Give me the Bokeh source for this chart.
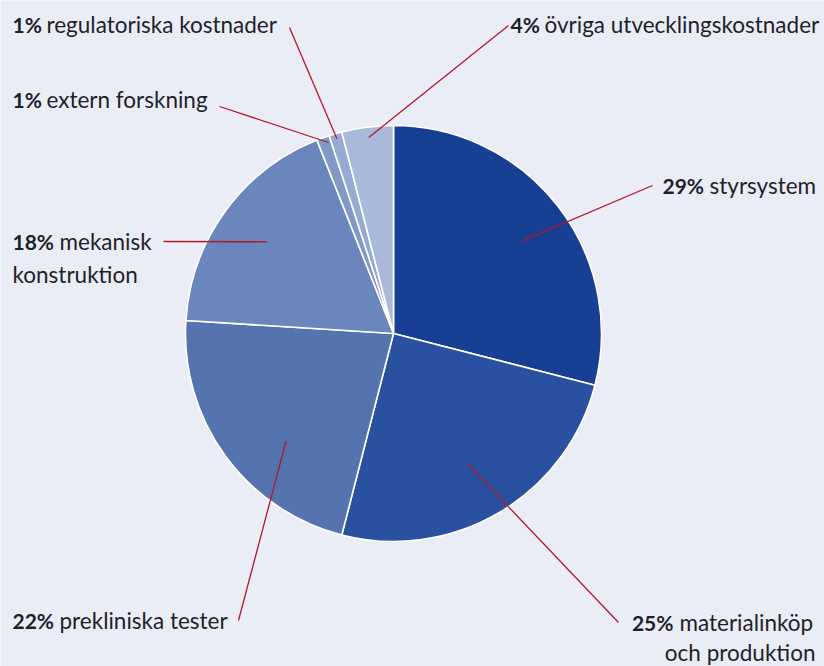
import math
from bokeh.plotting import figure
from bokeh.models import Range1d
from bokeh.embed import file_html
from bokeh.resources import INLINE
from bokeh.core.properties import value

# ---- data ----
categories = ["styrsystem", "materialinköp och produktion", "prekliniska tester",
              "mekanisk konstruktion", "extern forskning", "regulatoriska kostnader",
              "övriga utvecklingskostnader"]
shares = [29, 25, 22, 18, 1, 1, 4]
pct_labels = ["29%", "25%", "22%", "18%", "1%", "1%", "4%"]
label_lines = [["styrsystem"], ["materialinköp", "och produktion"], ["prekliniska tester"],
               ["mekanisk", "konstruktion"], ["extern forskning"], ["regulatoriska kostnader"],
               ["övriga utvecklingskostnader"]]

# ---- style / layout ----
colors = ["#173f94", "#2a519f", "#5573ae", "#6a86bd", "#8299c8", "#97aad3", "#a9b9d9"]
W, H = 824, 666
CX, CY, R = 393, 333, 208          # pixel-space centre and radius
anchor_r = [0.76, 0.72, 0.73, 0.75, 0.97, 0.975, 0.95]
anchor_shift = [2, 1, -9, 0, 1, 0, 0]
line_end = [(652, 185), (618, 622), (238, 620), (163, 241), (219, 106), (289, 27), (508, 25)]
text_pos = [(662, 185), (673, 622), (12, 620), (12, 241), (12, 99), (12, 24), (510, 24)]
text_gap = [47, 6, 47, 47, 34, 34, 34]
line_h = [33, 30, 33, 33, 33, 33, 33]
FONT = "Lato"
FS = "22.5px"
FSB = "21px"
TXT = "#1e1f2b"
RED = "#b3172a"

def py(y):
    return H - y

p = figure(width=W, height=H, output_backend="svg", toolbar_location=None,
           x_range=Range1d(0, W), y_range=Range1d(0, H), min_border=0)
p.axis.visible = False
p.grid.visible = False
p.outline_line_color = None
p.background_fill_color = "#eaecf6"
p.border_fill_color = "#eaecf6"

total = float(sum(shares))
cum = 0.0
for i, s in enumerate(shares):
    a0 = cum / total * 360.0
    a1 = (cum + s) / total * 360.0
    cum += s
    p.wedge(x=CX, y=py(CY), radius=R,
            start_angle=math.radians(90 - a0), end_angle=math.radians(90 - a1),
            direction="clock", fill_color=colors[i], line_color="white", line_width=1.6)
    mid = (a0 + a1) / 2 + anchor_shift[i]
    ax = CX + anchor_r[i] * R * math.sin(math.radians(mid))
    ay = CY - anchor_r[i] * R * math.cos(math.radians(mid))
    ex, ey = line_end[i]
    p.line([ax, ex], [py(ay), py(ey)], line_color=RED, line_width=1.3)

    tx, ty = text_pos[i]
    common = dict(text_baseline="middle", text_font=value(FONT), text_color=TXT)
    if i == 1:
        p.text([tx], [py(ty)], text=[pct_labels[i]], text_align="right",
               text_font_style="bold", text_font_size=FSB, **common)
        p.text([tx + text_gap[i]], [py(ty)], text=[label_lines[i][0]], text_align="left",
               text_font_size=FS, **common)
        p.text([815], [py(ty + line_h[i])], text=[label_lines[i][1]], text_align="right",
               text_font_size=FS, **common)
    else:
        p.text([tx], [py(ty)], text=[pct_labels[i]], text_align="left",
               text_font_style="bold", text_font_size=FSB, **common)
        p.text([tx + text_gap[i]], [py(ty)], text=[label_lines[i][0]], text_align="left",
               text_font_size=FS, **common)
        if len(label_lines[i]) > 1:
            p.text([tx], [py(ty + line_h[i])], text=[label_lines[i][1]], text_align="left",
                   text_font_size=FS, **common)

open("out.html", "w").write(file_html(p, INLINE))
